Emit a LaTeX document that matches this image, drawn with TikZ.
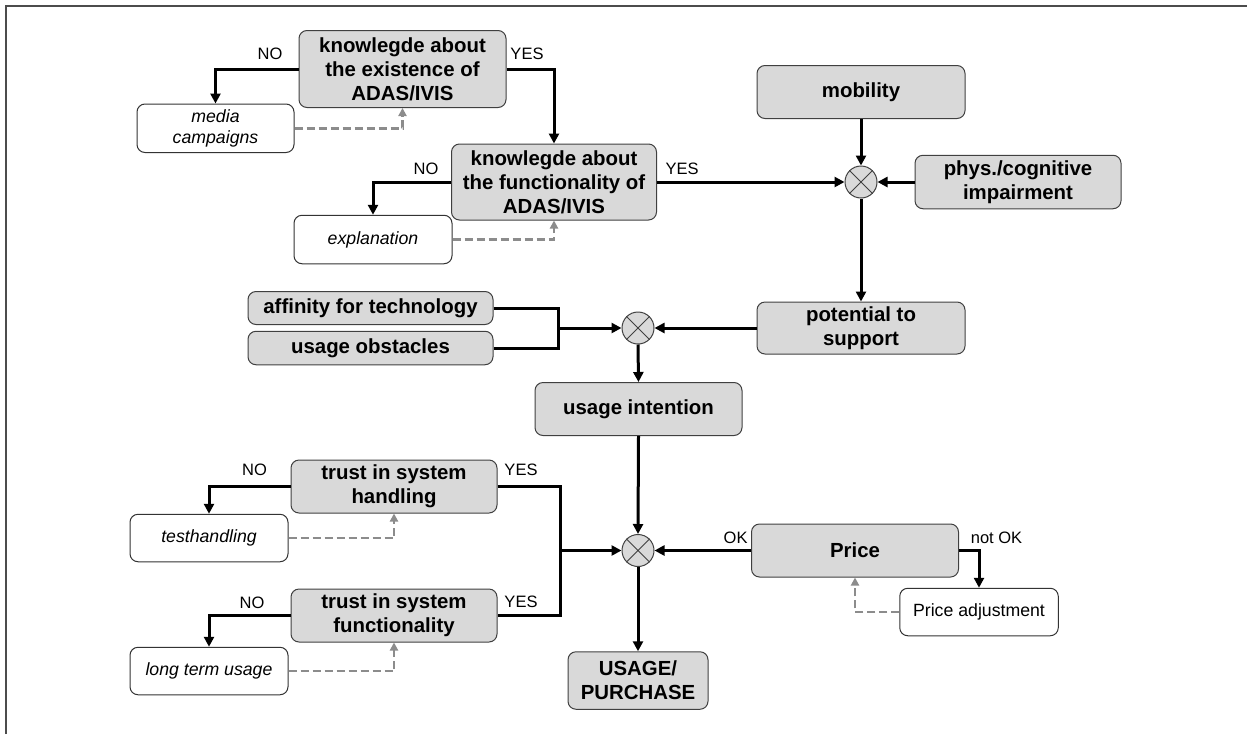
\documentclass[tikz,border=0pt]{standalone}
\usepackage{fontspec}
\setmainfont{Liberation Sans}
\usetikzlibrary{arrows.meta,shapes.geometric}
\tikzset{
  gbox/.style={draw=black!75, line width=1pt, fill=black!15, rounded corners=8pt, inner sep=0pt, align=center, font=\fontsize{20.4}{24}\selectfont\bfseries},
  wbox/.style={draw=black!80, line width=1pt, fill=white, rounded corners=8pt, inner sep=0pt, align=center, font=\fontsize{17.7}{20.7}\selectfont\itshape},
  lbl/.style={font=\fontsize{16.5}{19}\selectfont, inner sep=0pt},
  arr/.style={line width=3pt, -{Triangle[length=10pt,width=10pt]}},
  seg/.style={line width=3pt},
  darr/.style={line width=2.6pt, draw=black!45, dash pattern=on 8pt off 4pt, -{Triangle[length=8pt,width=8pt]}},
  mult/.style={circle, draw=black!75, line width=1pt, fill=black!15, minimum size=32pt, inner sep=0pt},
}
\newcommand{\crossin}[1]{\draw[black!75, line width=0.9pt] (#1.north west) -- (#1.south east) (#1.north east) -- (#1.south west);}
\begin{document}
\begin{tikzpicture}[x=1pt,y=-1pt]
\useasboundingbox (0,0) rectangle (1247,734);
\draw[black!70, line width=2pt] (5.5,734) -- (5.5,5.5) -- (1247,5.5);

% nodes
\node[gbox, minimum width=207pt, minimum height=77pt] (k1) at (402.5,69) {knowlegde about\\the existence of\\ADAS/IVIS};
\node[wbox, minimum width=157pt, minimum height=48.5pt] (media) at (215.5,128.25) {media\\campaigns};
\node[gbox, minimum width=205pt, minimum height=76pt] (k2) at (554,182) {knowlegde about\\the functionality of\\ADAS/IVIS};
\node[wbox, minimum width=158pt, minimum height=48.5pt] (expl) at (373,239.5) {explanation};
\node[gbox, minimum width=208pt, minimum height=53pt] (mob) at (861,92) {mobility};
\node[mult] (c1) at (861,182) {};
\node[gbox, minimum width=206pt, minimum height=53.5pt] (phys) at (1018,182) {phys./cognitive\\impairment};
\node[gbox, minimum width=208pt, minimum height=52pt] (pot) at (861,328) {potential to\\support};
\node[mult] (c2) at (638,328) {};
\node[gbox, minimum width=245pt, minimum height=33pt] (aff) at (370.5,308) {affinity for technology};
\node[gbox, minimum width=245pt, minimum height=33.5pt] (obs) at (370.5,348) {usage obstacles};
\node[gbox, minimum width=207pt, minimum height=53pt] (int) at (638.5,409) {usage intention};
\node[mult] (c3) at (638,550.5) {};
\node[gbox, minimum width=206pt, minimum height=53pt] (th) at (394,486.5) {trust in system\\handling};
\node[wbox, minimum width=158pt, minimum height=47.5pt] (test) at (209,538) {testhandling};
\node[gbox, minimum width=206pt, minimum height=53pt] (tf) at (394,615.5) {trust in system\\functionality};
\node[wbox, minimum width=158pt, minimum height=47.5pt] (long) at (209,671) {long term usage};
\node[gbox, minimum width=207pt, minimum height=53pt] (price) at (855,550.5) {Price};
\node[wbox, minimum width=158.5pt, minimum height=47.5pt, font=\fontsize{17.7}{20.7}\selectfont] (padj) at (979,612) {Price adjustment};
\node[gbox, minimum width=140pt, minimum height=57.5pt] (use) at (638,680.5) {USAGE/\\PURCHASE};

\crossin{c1}
\crossin{c2}
\crossin{c3}

% labels
\node[lbl] (l1) at (270,54) {NO};
\node[lbl] (l2) at (527,54) {YES};
\node[lbl] (l3) at (426,168.5) {NO};
\node[lbl] (l4) at (682,168.5) {YES};
\node[lbl] (l5) at (254.5,469.6) {NO};
\node[lbl] (l6) at (521,469.6) {YES};
\node[lbl] (l7) at (252,602.5) {NO};
\node[lbl] (l8) at (521,601.6) {YES};
\node[lbl] (l9) at (735.6,538) {OK};
\node[lbl] (l10) at (996.5,538) {not OK};

% junction coordinates
\coordinate (j1) at (558,328);
\coordinate (j2) at (560.7,550.5);

% connectors
\draw[arr] (k1.west) -| (media.north);
\draw[arr] (k1.east) -| (k2.north);
\draw[darr] (media.east) -| (k1.south);
\draw[arr] (k2.west) -| (expl.north);
\draw[darr] (expl.east) -| (k2.south);
\draw[arr] (k2.east) -- (c1.west);
\draw[arr] (mob.south) -- (c1.north);
\draw[arr] (phys.west) -- (c1.east);
\draw[arr] (c1.south) -- (pot.north);
\draw[arr] (pot.west) -- (c2.east);
\draw[seg] (aff.east) -| (j1) |- (obs.east);
\draw[arr] (j1) -- (c2.west);
\draw[arr] (c2.south) -- (int.north);
\draw[arr] (int.south) -- (c3.north);
\draw[seg] (th.east) -| (j2) |- (tf.east);
\draw[arr] (j2) -- (c3.west);
\draw[arr] (th.west) -| (test.north);
\draw[darr] (test.east) -| (th.south);
\draw[arr] (tf.west) -| (long.north);
\draw[darr] (long.east) -| (tf.south);
\draw[arr] (price.west) -- (c3.east);
\draw[arr] (price.east) -| (padj.north);
\draw[darr] (padj.west) -| (price.south);
\draw[arr] (c3.south) -- (use.north);
\end{tikzpicture}
\end{document}
